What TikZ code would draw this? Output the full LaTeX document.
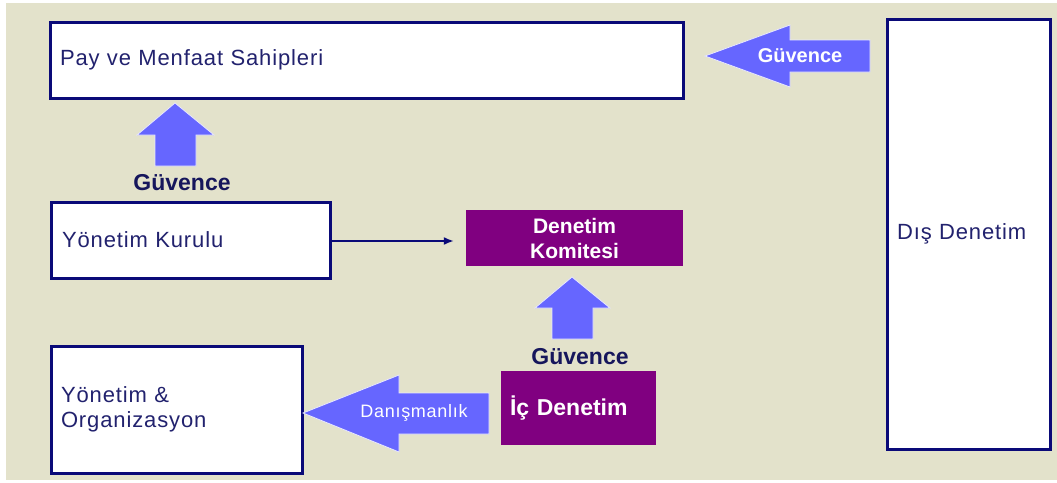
\documentclass[tikz,border=0pt]{standalone}
\usepackage{fontspec}
\setmainfont{Liberation Sans}[LetterSpace=4, BoldFeatures={LetterSpace=0}]
\usetikzlibrary{arrows.meta,calc}
\definecolor{bg}{HTML}{E3E2CB}
\definecolor{navy}{HTML}{0A0A78}
\definecolor{txt}{HTML}{22226E}
\definecolor{lab}{HTML}{16165C}
\definecolor{purp}{HTML}{800080}
\definecolor{ablue}{HTML}{6666FF}
\begin{document}
\begin{tikzpicture}[x=1pt,y=-1pt,
  wbox/.style={draw=navy, line width=3pt, fill=white, text=txt, align=left,
    inner ysep=0pt, font=\fontsize{22}{25}\selectfont},
  pbox/.style={fill=purp, text=white, inner sep=0pt, font=\bfseries\fontsize{21}{25}\selectfont},
  blockarrow/.style={fill=ablue, draw=white!85!ablue, line width=0.8pt},
  arrowtext/.style={text=white, inner sep=0pt},
  guvlabel/.style={text=lab, inner sep=0pt, font=\bfseries\fontsize{23}{25}\selectfont},
  thin link/.style={draw=navy, line width=1.6pt, -{Latex[length=10pt,width=8pt]}}
]
\useasboundingbox (0,0) rectangle (1057,482);
\fill[white] (0,0) rectangle (1057,482);
\fill[bg] (6,3) rectangle (1057,480);

% boxes
\node[wbox, text width=613, minimum height=76, inner xsep=10] (pay) at (366.5,60) {Pay ve Menfaat Sahipleri};
\node[wbox, text width=257, minimum height=76, inner xsep=11] (yk) at (190.5,240) {Yönetim Kurulu};
\node[wbox, text width=231, minimum height=127, inner xsep=10] (yo) at (176.5,409.5) {Yönetim \&\\Organizasyon};
\node[wbox, text width=143, minimum height=430, inner xsep=10] (dis) at (968.5,234) {Dış Denetim};
\node[pbox, minimum width=217, minimum height=56, align=center] (dk) at (574.5,238) {Denetim\\Komitesi};
\node[pbox, minimum width=155, minimum height=74, text width=137, align=left, inner xsep=9,
  font=\bfseries\fontsize{23}{25}\selectfont] (ic) at (578.5,408) {İç Denetim};

% block arrows
\fill[blockarrow] (705,56) -- (790,25) -- (790,40) -- (870,40) -- (870,72) -- (790,72) -- (790,87) -- cycle;
\node[arrowtext, font=\bfseries\fontsize{20}{22}\selectfont] (g1) at (800,56) {Güvence};

\fill[blockarrow] (175,103) -- (214,135) -- (196,135) -- (196,166) -- (155,166) -- (155,135) -- (137,135) -- cycle;
\node[guvlabel] (g2) at (182,183) {Güvence};

\fill[blockarrow] (572,277) -- (610,308) -- (593,308) -- (593,339) -- (552,339) -- (552,308) -- (535,308) -- cycle;
\node[guvlabel] (g3) at (580,357) {Güvence};

\fill[blockarrow] (303,413) -- (399,375) -- (399,393) -- (489,393) -- (489,434) -- (399,434) -- (399,452) -- cycle;
\node[arrowtext, font=\fontsize{18}{22}\selectfont] (dan) at (414,413) {Danışmanlık};

% thin connector
\draw[thin link] (yk.east |- 0,241) -- ([xshift=-12pt]dk.west |- 0,241);
\end{tikzpicture}
\end{document}
